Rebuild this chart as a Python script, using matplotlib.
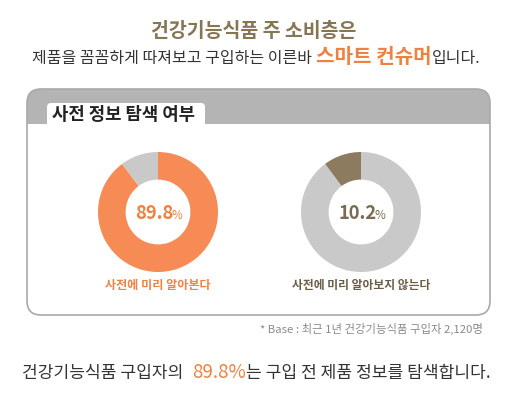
import matplotlib
matplotlib.use('Agg')
import matplotlib.pyplot as plt
from matplotlib.patches import FancyBboxPatch, Rectangle

plt.rcParams['font.family'] = ['Noto Sans CJK KR', 'DejaVu Sans']

# chart data / texts
title_1 = '건강기능식품 주 소비층은'
title_2 = ['제품을 꼼꼼하게 따져보고 구입하는 이른바', '스마트 컨슈머', '입니다.']
box_title = '사전 정보 탐색 여부'
shares = [89.8, 10.2]
share_labels = ['89.8', '10.2']
labels = ['사전에 미리 알아본다', '사전에 미리 알아보지 않는다']
base_note = '* Base : 최근 1년 건강기능식품 구입자 2,120명'
summary = ['건강기능식품 구입자의', '89.8%', '는 구입 전 제품 정보를 탐색합니다.']

ORANGE = '#F68B55'
ORANGE_TXT = '#EE8242'
LGRAY = '#C9C9C9'
BROWN = '#8C7B5E'
OLIVE = '#857754'
DARK = '#333333'

W, H = 508, 398
fig = plt.figure(figsize=(W / 100, H / 100), dpi=100)
bg = fig.add_axes([0, 0, 1, 1])
bg.set_xlim(0, W)
bg.set_ylim(H, 0)
bg.axis('off')
renderer = fig.canvas.get_renderer()


def line(parts, x, y, ha='left'):
    # parts: (text, text kwargs, gap after in px); all on one baseline
    ts, widths = [], []
    for s, kw, gap in parts:
        t = bg.text(0, y, s, va='baseline', ha='left', **kw)
        ts.append(t)
        widths.append(t.get_window_extent(renderer).width + gap)
    total = sum(widths)
    if ha == 'center':
        x -= total / 2
    elif ha == 'right':
        x -= total
    for t, w in zip(ts, widths):
        t.set_x(x)
        x += w
    return ts


# headline
line([(title_1, dict(fontsize=14, fontweight='bold', color=OLIVE), 0)], 254, 37, ha='center')
line([(title_2[0], dict(fontsize=11.5, color=DARK), 4),
      (title_2[1], dict(fontsize=14.5, fontweight='bold', color=ORANGE_TXT), 0),
      (title_2[2], dict(fontsize=11.5, color=DARK), 0)], 256, 63, ha='center')

# panel box
bx, by, bw, bh = 27, 89, 463, 226
box = FancyBboxPatch((bx, by), bw, bh, boxstyle='round,pad=0,rounding_size=14',
                     fc='white', ec='none', zorder=1)
bg.add_patch(box)
band = Rectangle((bx, by), bw, 35, fc='#B4B4B4', ec='none', zorder=2)
bg.add_patch(band)
band.set_clip_path(box)
bg.add_patch(FancyBboxPatch((bx, by), bw, bh, boxstyle='round,pad=0,rounding_size=14',
                            fc='none', ec='#A9A9A9', lw=1.2, zorder=4))
bg.add_patch(FancyBboxPatch((47, 103), 158, 30, boxstyle='round,pad=0,rounding_size=4',
                            fc='white', ec='none', zorder=3))
line([(box_title, dict(fontsize=12.8, fontweight='bold', color='#222222', zorder=5), 0)], 52, 120.5)

# donuts
centers = [(158, 212), (361, 212)]
R = 60
donut_colors = [[ORANGE, LGRAY], [LGRAY, BROWN]]
num_colors = [ORANGE_TXT, '#7A6B52']
label_colors = [ORANGE_TXT, '#6A5C45']
label_sizes = [8.7, 8.5]
for i, (cx, cy) in enumerate(centers):
    ax = fig.add_axes([(cx - R) / W, (H - cy - R) / H, 2 * R / W, 2 * R / H])
    ax.pie(shares, colors=donut_colors[i], startangle=90, counterclock=False,
           wedgeprops=dict(width=0.46, linewidth=0))
    ax.set_xlim(-1, 1)
    ax.set_ylim(-1, 1)
    ax.set_aspect('equal')
    ax.axis('off')
    line([(share_labels[i], dict(fontsize=13.2, fontweight='bold', color=num_colors[i]), -1.5),
          ('%', dict(fontsize=8.5, color=num_colors[i]), 0)], cx + 1, cy + 7, ha='center')
    line([(labels[i], dict(fontsize=label_sizes[i], fontweight='bold', color=label_colors[i]), 0)],
         cx, 289, ha='center')

# footnote
line([(base_note, dict(fontsize=8.2, color='#8A8A8A'), 0)], 483, 333, ha='right')

# summary line
line([(summary[0], dict(fontsize=12.3, color=DARK), 9),
      (summary[1], dict(fontsize=13.5, color=ORANGE_TXT), 0),
      (summary[2], dict(fontsize=12.3, color=DARK), 0)], 256, 378, ha='center')

fig.savefig('out.png', dpi=100, facecolor='white')
